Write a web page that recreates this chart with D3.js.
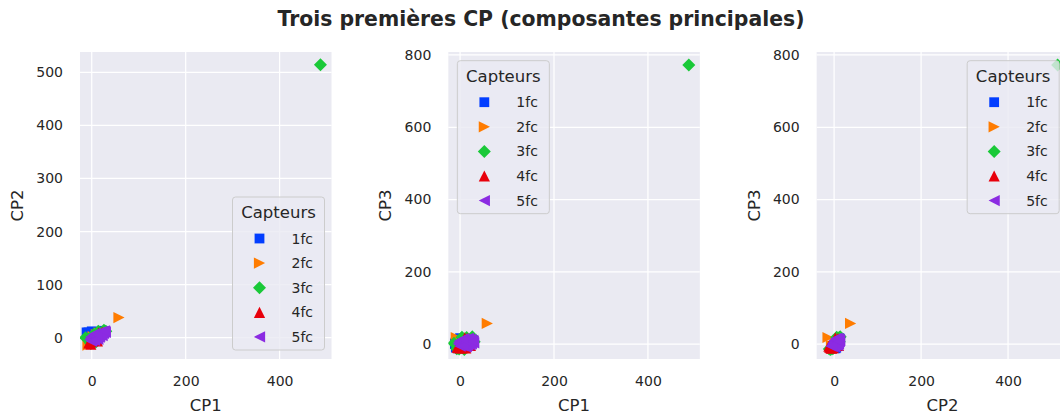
<!DOCTYPE html>
<html><head><meta charset="utf-8">
<script src="https://cdn.jsdelivr.net/npm/d3@7"></script>
<style>
body{margin:0;background:#fff;}
text{font-family:"DejaVu Sans",sans-serif;fill:#262626;}
</style>
</head><body>
<svg id="chart" width="1060" height="416"></svg>
<script>
// ---- data ----
const seriesNames = ["1fc", "2fc", "3fc", "4fc", "5fc"];
const seriesColors = ["#023eff", "#ff7c00", "#1ac938", "#e8000b", "#8b2be2"];
const seriesMarkers = ["square", "right", "diamond", "up", "left"];
// each point: [CP1, CP2, CP3]
const fc1 = [[-10,8,4],[-9,5,-10],[-7,10,10],[-4,3,-12],[-2,7,6],[2,0,-8],[5,9,12],[9,4,-2],[13,11,8],[18,8,3],[22,13,14],[27,10,9],[-6,-4,-6],[0,12,16],[-11,10,0]];
const fc2 = [[-8,-14,18],[-3,-6,-4],[3,2,6],[10,6,-3],[16,9,10],[24,11,4],[58,38,57]];
const fc3 = [[-13,0,2],[-7,-3,-13],[-2,-11,-14],[4,6,19],[9,-8,-15],[14,12,18],[20,4,-6],[26,14,20],[30,12,6],[6,2,-2],[487,514,772]];
const fc4 = [[-6,-10,-9],[-2,-12,-6],[1,-6,-11],[5,-2,-10],[10,3,17],[15,9,15],[22,10,-4],[-4,-8,-10],[12,-6,-11]];
const fc5 = [[-4,-4,0],[-2,2,8],[0,-7,-6],[3,5,12],[5,-2,2],[7,8,-4],[9,0,10],[11,6,4],[13,-3,-7],[15,9,14],[17,3,0],[19,11,9],[21,6,-2],[23,12,13],[25,8,5],[27,13,10],[29,10,3],[1,0,-2],[8,4,15],[18,7,16],[12,2,-8],[-3,-1,4],[2,-4,-3],[4,1,7],[6,3,-1],[10,-1,3],[14,5,8],[16,1,-4],[20,9,5],[24,10,0],[26,11,8],[22,4,12],[6,-5,-5],[10,7,11],[28,12,7]];
const seriesData = [fc1, fc2, fc3, fc4, fc5];

const compNames = ["CP1", "CP2", "CP3"];
const compLimits = [[-25, 510.5], [-40.1, 538.2], [-41.5, 808.3]];
const xTickValues = [0, 200, 400];
const yTickValues = [[], [0, 100, 200, 300, 400, 500], [0, 200, 400, 600, 800]];
const titleText = "Trois premières CP (composantes principales)";
const legendTitle = "Capteurs";

// panels: [x component, y component, legend placement]
const panelDefs = [[0, 1, "lower right"], [0, 2, "upper left"], [1, 2, "upper right"]];

// ---- layout ----
const svg = d3.select("#chart");
const plotW = 251.5, plotH = 307, plotTop = 52, firstLeft = 80, step = 368.33;

function markerPath(type) {
  switch (type) {
    case "square": return "M-4.9,-4.9H4.9V4.9H-4.9Z";
    case "right": return "M5.6,0L-5.6,-5.6L-5.6,5.6Z";
    case "up": return "M0,-5.6L5.6,5.6L-5.6,5.6Z";
    case "left": return "M-5.6,0L5.6,-5.6L5.6,5.6Z";
    case "diamond": return "M0,-6.5L6.5,0L0,6.5L-6.5,0Z";
  }
}

svg.append("text")
  .attr("x", 541).attr("y", 26)
  .attr("text-anchor", "middle")
  .style("font-size", "20.4px").style("font-weight", "bold")
  .text(titleText);

panelDefs.forEach(([cx, cy, loc], pi) => {
  const left = firstLeft + pi * step;
  const g = svg.append("g").attr("transform", `translate(${left},${plotTop})`);
  const x = d3.scaleLinear().domain(compLimits[cx]).range([0, plotW]);
  const y = d3.scaleLinear().domain(compLimits[cy]).range([plotH, 0]);

  const clipId = "clip" + pi;
  g.append("clipPath").attr("id", clipId).append("rect").attr("width", plotW).attr("height", plotH);

  g.append("rect").attr("width", plotW).attr("height", plotH).attr("fill", "#eaeaf2");

  // grid
  g.selectAll(".gx").data(xTickValues).join("line")
    .attr("x1", d => x(d)).attr("x2", d => x(d)).attr("y1", 0).attr("y2", plotH)
    .attr("stroke", "#fff").attr("stroke-width", 1.25);
  g.selectAll(".gy").data(yTickValues[cy]).join("line")
    .attr("y1", d => y(d)).attr("y2", d => y(d)).attr("x1", 0).attr("x2", plotW)
    .attr("stroke", "#fff").attr("stroke-width", 1.25);

  // axes (tick labels only)
  const xAxis = d3.axisBottom(x).tickValues(xTickValues).tickSize(0).tickPadding(17).tickFormat(d3.format("d"));
  const ax = g.append("g").attr("transform", `translate(0,${plotH})`).call(xAxis);
  ax.select(".domain").remove();
  ax.selectAll("text").style("font-size", "14px").style("font-family", "DejaVu Sans").attr("fill", "#262626");

  const yAxis = d3.axisLeft(y).tickValues(yTickValues[cy]).tickSize(0).tickPadding(17).tickFormat(d3.format("d"));
  const ay = g.append("g").call(yAxis);
  ay.select(".domain").remove();
  ay.selectAll("text").style("font-size", "14px").style("font-family", "DejaVu Sans").attr("fill", "#262626");

  // axis labels
  g.append("text").attr("x", plotW / 2).attr("y", plotH + 51.5).attr("text-anchor", "middle")
    .style("font-size", "16.5px").text(compNames[cx]);
  g.append("text").attr("transform", `translate(-57,${plotH / 2}) rotate(-90)`).attr("text-anchor", "middle")
    .style("font-size", "16.5px").text(compNames[cy]);

  // points
  const pts = g.append("g").attr("clip-path", `url(#${clipId})`);
  seriesData.forEach((data, si) => {
    pts.selectAll(null).data(data).join("path")
      .attr("d", markerPath(seriesMarkers[si]))
      .attr("transform", d => `translate(${x(d[cx])},${y(d[cy])})`)
      .attr("fill", seriesColors[si]);
  });

  // legend
  const lw = 92, lh = 153;
  let lx, ly;
  if (loc === "lower right") { lx = plotW - 7 - lw; ly = plotH - 9 - lh; }
  else if (loc === "upper left") { lx = 9; ly = 8.7; }
  else { lx = plotW - 9 - lw; ly = 8.7; }
  const lg = g.append("g").attr("transform", `translate(${lx},${ly})`);
  lg.append("rect").attr("width", lw).attr("height", lh).attr("rx", 3)
    .attr("fill", "#eaeaf2").attr("fill-opacity", 0.8)
    .attr("stroke", "#cccccc").attr("stroke-width", 1);
  lg.append("text").attr("x", 46).attr("y", 15).attr("dy", "0.36em").attr("text-anchor", "middle")
    .style("font-size", "16.5px").text(legendTitle);
  seriesNames.forEach((name, si) => {
    const yy = 41.5 + si * 24.6;
    lg.append("path").attr("d", markerPath(seriesMarkers[si]))
      .attr("transform", `translate(27,${yy})`).attr("fill", seriesColors[si]);
    lg.append("text").attr("x", 59).attr("y", yy).attr("dy", "0.36em")
      .style("font-size", "14px").text(name);
  });
});
</script>
</body></html>
